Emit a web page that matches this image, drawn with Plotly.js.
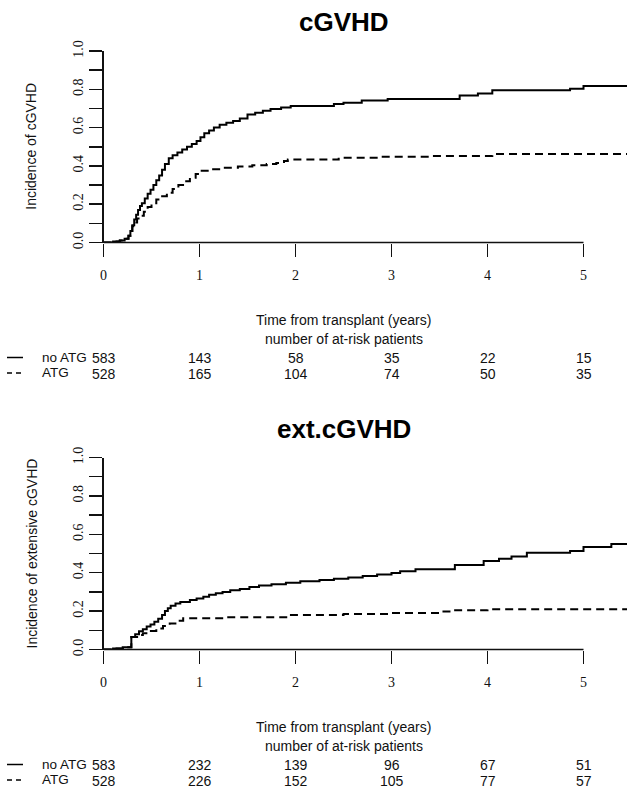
<!DOCTYPE html>
<html>
<head>
<meta charset="utf-8">
<script src="https://cdn.plot.ly/plotly-3.0.1.min.js"></script>
<style>html,body{margin:0;padding:0;background:#fff;}</style>
</head>
<body>
<div id="chart" style="width:627px;height:791px;"></div>
<script>
// ---------- data ----------
const cgvhdNoAtgT = [0, 0.10, 0.17, 0.22, 0.26, 0.28, 0.30, 0.32, 0.34, 0.36, 0.38, 0.40, 0.43, 0.46, 0.49, 0.52, 0.55, 0.58, 0.61, 0.64, 0.68, 0.72, 0.77, 0.82, 0.87, 0.92, 0.97, 1.01, 1.05, 1.10, 1.15, 1.21, 1.28, 1.35, 1.42, 1.50, 1.58, 1.66, 1.74, 1.85, 1.95, 2.40, 2.50, 2.69, 2.96, 3.71, 3.90, 4.05, 4.86, 5.00, 5.50];
const cgvhdNoAtgV = [0, 0.005, 0.01, 0.02, 0.035, 0.06, 0.09, 0.12, 0.145, 0.17, 0.19, 0.205, 0.23, 0.255, 0.275, 0.30, 0.325, 0.35, 0.38, 0.41, 0.44, 0.455, 0.47, 0.485, 0.50, 0.515, 0.53, 0.55, 0.57, 0.585, 0.60, 0.615, 0.625, 0.635, 0.648, 0.668, 0.678, 0.688, 0.697, 0.705, 0.713, 0.723, 0.73, 0.742, 0.75, 0.768, 0.778, 0.795, 0.803, 0.817, 0.817];

const cgvhdAtgT = [0, 0.10, 0.17, 0.22, 0.26, 0.28, 0.30, 0.32, 0.35, 0.38, 0.42, 0.46, 0.50, 0.55, 0.60, 0.66, 0.72, 0.78, 0.84, 0.90, 0.96, 1.00, 1.10, 1.25, 1.40, 1.55, 1.70, 1.80, 1.88, 1.92, 2.45, 2.88, 3.40, 4.05, 5.50];
const cgvhdAtgV = [0, 0.005, 0.01, 0.02, 0.035, 0.06, 0.085, 0.105, 0.125, 0.14, 0.16, 0.185, 0.205, 0.225, 0.242, 0.26, 0.28, 0.30, 0.32, 0.338, 0.358, 0.375, 0.383, 0.39, 0.397, 0.403, 0.41, 0.415, 0.425, 0.434, 0.443, 0.448, 0.452, 0.462, 0.462];

const extNoAtgT = [0, 0.10, 0.20, 0.29, 0.33, 0.37, 0.41, 0.45, 0.49, 0.53, 0.57, 0.61, 0.64, 0.67, 0.70, 0.75, 0.80, 0.90, 0.97, 1.04, 1.10, 1.17, 1.24, 1.32, 1.42, 1.52, 1.62, 1.75, 1.90, 2.05, 2.25, 2.40, 2.55, 2.70, 2.85, 3.00, 3.09, 3.25, 3.66, 3.96, 4.12, 4.25, 4.41, 4.86, 5.00, 5.29, 5.50];
const extNoAtgV = [0, 0.005, 0.012, 0.065, 0.08, 0.095, 0.105, 0.12, 0.13, 0.145, 0.16, 0.18, 0.20, 0.215, 0.228, 0.24, 0.248, 0.258, 0.265, 0.275, 0.285, 0.293, 0.30, 0.308, 0.315, 0.325, 0.333, 0.34, 0.348, 0.356, 0.362, 0.368, 0.375, 0.383, 0.39, 0.398, 0.407, 0.418, 0.44, 0.461, 0.473, 0.485, 0.504, 0.513, 0.534, 0.549, 0.549];

const extAtgT = [0, 0.10, 0.20, 0.29, 0.35, 0.41, 0.48, 0.55, 0.62, 0.69, 0.76, 0.83, 1.27, 1.92, 2.50, 3.00, 3.50, 3.65, 4.00, 5.50];
const extAtgV = [0, 0.005, 0.012, 0.065, 0.075, 0.084, 0.097, 0.11, 0.123, 0.136, 0.15, 0.163, 0.168, 0.18, 0.185, 0.19, 0.198, 0.205, 0.21, 0.21];

const riskTimes = [0, 1, 2, 3, 4, 5];
const cgvhdRiskNoAtg = [583, 143, 58, 35, 22, 15];
const cgvhdRiskAtg = [528, 165, 104, 74, 50, 35];
const extRiskNoAtg = [583, 232, 139, 96, 67, 51];
const extRiskAtg = [528, 226, 152, 105, 77, 57];

const xTicks = [0, 1, 2, 3, 4, 5];
const yTicks = [0, 0.1, 0.2, 0.3, 0.4, 0.5, 0.6, 0.7, 0.8, 0.9, 1.0];
const yTickText = ['0.0', '', '0.2', '', '0.4', '', '0.6', '', '0.8', '', '1.0'];

// ---------- layout helpers ----------
const W = 627, H = 791;
const py = p => (H - p) / H;   // pixel y -> paper
const px = p => p / W;         // pixel x -> paper
const SANS = 'Liberation Sans, Arial, sans-serif';
const SERIF = 'Liberation Serif, Times New Roman, serif';
const INK = '#111';

const xDom = [px(103.5), 1];
const topDom = [py(242.5), py(51)];
const botDom = [py(649.5), py(457.5)];
const xMax = (W - 103.5) / 96;

function xAxis(anchor) {
  return {
    domain: xDom, range: [0, xMax], anchor: anchor,
    showgrid: false, zeroline: false, showline: false,
    tickmode: 'array', tickvals: xTicks, ticktext: xTicks.map(String),
    ticks: 'outside', ticklen: 13, tickwidth: 1.5, tickcolor: INK,
    ticklabelstandoff: 7,
    tickfont: {family: SERIF, size: 14, color: INK}
  };
}
function yAxis(anchor, dom) {
  return {
    domain: dom, range: [0, 1], anchor: anchor,
    showgrid: false, zeroline: false, showline: true, linewidth: 1.5, linecolor: INK,
    tickmode: 'array', tickvals: yTicks, ticktext: yTickText,
    ticks: 'outside', ticklen: 13, tickwidth: 1.5, tickcolor: INK, tickangle: -90,
    tickfont: {family: SERIF, size: 14, color: INK}
  };
}

const solid = {color: '#000', width: 2, shape: 'hv'};
const dashed = {color: '#000', width: 2, shape: 'hv', dash: '8px,5px'};

const data = [
  {x: cgvhdNoAtgT, y: cgvhdNoAtgV, xaxis: 'x', yaxis: 'y', mode: 'lines', line: solid, name: 'no ATG'},
  {x: cgvhdAtgT, y: cgvhdAtgV, xaxis: 'x', yaxis: 'y', mode: 'lines', line: dashed, name: 'ATG'},
  {x: extNoAtgT, y: extNoAtgV, xaxis: 'x2', yaxis: 'y2', mode: 'lines', line: solid, name: 'no ATG'},
  {x: extAtgT, y: extAtgV, xaxis: 'x2', yaxis: 'y2', mode: 'lines', line: dashed, name: 'ATG'}
];

const annotations = [];
const shapes = [];
function txt(x, y, text, opts) {
  annotations.push(Object.assign({
    x: x, y: y, xref: 'paper', yref: 'paper', text: text, showarrow: false,
    xanchor: 'center', yanchor: 'middle',
    font: {family: SANS, size: 14, color: INK}
  }, opts || {}));
}

function panel(off, xref, title, ytitle, riskA, riskB, dom) {
  txt(px(343.5), py(22 + off), title, {font: {family: SANS, size: 26, color: '#000', weight: 'bold'}});
  txt(px(31), (dom[0] + dom[1]) / 2, ytitle, {textangle: -90});
  txt(px(343.5), py(320 + off), 'Time from transplant (years)');
  txt(px(343.5), py(339 + off), 'number of at-risk patients');
  // x axis line from 0 to 5
  shapes.push({type: 'line', xref: xref, yref: 'paper', x0: xTicks[0], x1: xTicks[xTicks.length - 1],
    y0: dom[0], y1: dom[0], line: {color: INK, width: 1.5}});
  // legend keys
  shapes.push({type: 'line', xref: 'paper', yref: 'paper', x0: px(7), x1: px(23),
    y0: py(357.5 + off), y1: py(357.5 + off), line: {color: '#000', width: 1.5}});
  shapes.push({type: 'line', xref: 'paper', yref: 'paper', x0: px(7), x1: px(24),
    y0: py(373 + off), y1: py(373 + off), line: {color: '#000', width: 1.5, dash: '5px,4px'}});
  txt(px(40), py(357 + off), 'no ATG', {xanchor: 'left', font: {family: SANS, size: 13.5, color: INK}});
  txt(px(40), py(372 + off), 'ATG', {xanchor: 'left', font: {family: SANS, size: 13.5, color: INK}});
  riskTimes.forEach((t, i) => {
    annotations.push({x: t, xref: xref, y: py(358 + off), yref: 'paper', text: String(riskA[i]),
      showarrow: false, xanchor: 'center', yanchor: 'middle', font: {family: SANS, size: 14, color: INK}});
    annotations.push({x: t, xref: xref, y: py(374 + off), yref: 'paper', text: String(riskB[i]),
      showarrow: false, xanchor: 'center', yanchor: 'middle', font: {family: SANS, size: 14, color: INK}});
  });
}
panel(0, 'x', 'cGVHD', 'Incidence of cGVHD', cgvhdRiskNoAtg, cgvhdRiskAtg, topDom);
panel(407, 'x2', 'ext.cGVHD', 'Incidence of extensive cGVHD', extRiskNoAtg, extRiskAtg, botDom);

const layout = {
  width: W, height: H,
  margin: {l: 0, r: 0, t: 0, b: 0},
  paper_bgcolor: '#fff', plot_bgcolor: '#fff',
  showlegend: false,
  xaxis: xAxis('y'), yaxis: yAxis('x', topDom),
  xaxis2: xAxis('y2'), yaxis2: yAxis('x2', botDom),
  annotations: annotations, shapes: shapes
};

Plotly.newPlot('chart', data, layout, {displayModeBar: false, staticPlot: true});
</script>
</body>
</html>
